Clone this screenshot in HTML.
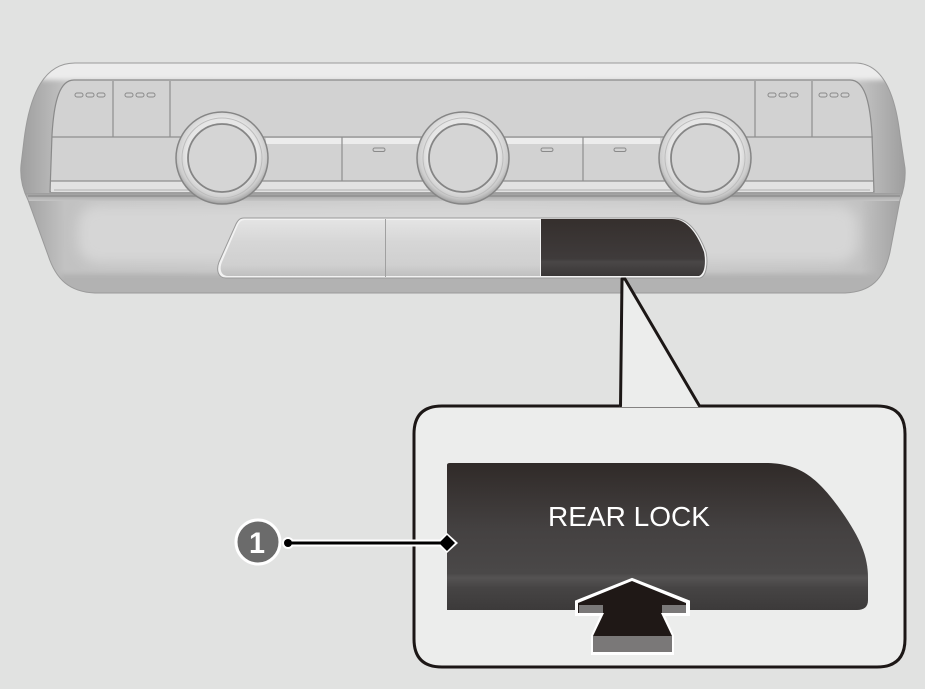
<!DOCTYPE html>
<html><head><meta charset="utf-8"><style>
html,body{margin:0;padding:0;background:#e1e2e1;}
svg{display:block;}
</style></head><body>
<svg width="925" height="689" viewBox="0 0 925 689" xmlns="http://www.w3.org/2000/svg">
<defs>
  <linearGradient id="sideG" x1="0" y1="0" x2="1" y2="0">
    <stop offset="0" stop-color="#9e9e9e"/>
    <stop offset="0.05" stop-color="#c2c2c2"/>
    <stop offset="0.5" stop-color="#cdcdcd"/>
    <stop offset="0.95" stop-color="#c2c2c2"/>
    <stop offset="1" stop-color="#9e9e9e"/>
  </linearGradient>
  <linearGradient id="btnG" x1="0" y1="0" x2="0" y2="1">
    <stop offset="0" stop-color="#302a28"/>
    <stop offset="0.45" stop-color="#444141"/>
    <stop offset="0.75" stop-color="#4a4848"/>
    <stop offset="0.78" stop-color="#555353"/>
    <stop offset="0.85" stop-color="#464444"/>
    <stop offset="1" stop-color="#3c3a3a"/>
  </linearGradient>
  <linearGradient id="smallBtn" x1="0" y1="0" x2="0" y2="1">
    <stop offset="0" stop-color="#352f2d"/>
    <stop offset="0.7" stop-color="#3f3b3b"/>
    <stop offset="0.75" stop-color="#4a4747"/>
    <stop offset="1" stop-color="#3a3737"/>
  </linearGradient>
  <linearGradient id="lightBtn" x1="0" y1="0" x2="0" y2="1">
    <stop offset="0" stop-color="#e4e4e4"/>
    <stop offset="0.4" stop-color="#d6d6d6"/>
    <stop offset="0.8" stop-color="#d0d0d0"/>
    <stop offset="1" stop-color="#c0c0c0"/>
  </linearGradient>
  <linearGradient id="ridgeG" x1="0" y1="0" x2="0" y2="1">
    <stop offset="0" stop-color="#9c9c9c"/>
    <stop offset="1" stop-color="#c4c4c4"/>
  </linearGradient>
  <radialGradient id="knobRing" cx="0.5" cy="0.45" r="0.55">
    <stop offset="0.7" stop-color="#e6e6e6"/>
    <stop offset="0.88" stop-color="#cdcdcd"/>
    <stop offset="1" stop-color="#9e9e9e"/>
  </radialGradient>
  <clipPath id="outerClip">
    <path d="M75 63 L855 63 C882 63 895 92 900 135 L905 168 C906 182 903 192 900 200 L890 252 C884 280 870 292 845 293 L95 293 C70 292 56 280 48 255 L28 200 C22 188 20 176 21 165 L24 140 C30 92 45 63 75 63 Z"/>
  </clipPath>
  <filter id="blur6" x="-10%" y="-30%" width="120%" height="160%"><feGaussianBlur stdDeviation="6"/></filter>
  <filter id="blur3" x="-10%" y="-30%" width="120%" height="160%"><feGaussianBlur stdDeviation="2.5"/></filter>
</defs>

<rect x="0" y="0" width="925" height="689" fill="#e1e2e1"/>

<!-- ===== Control panel ===== -->
<path d="M75 63 L855 63 C882 63 895 92 900 135 L905 168 C906 182 903 192 900 200 L890 252 C884 280 870 292 845 293 L95 293 C70 292 56 280 48 255 L28 200 C22 188 20 176 21 165 L24 140 C30 92 45 63 75 63 Z" fill="url(#sideG)"/>
<g clip-path="url(#outerClip)">
  <rect x="40" y="58" width="850" height="22" fill="#ececec" filter="url(#blur3)"/>
  <rect x="78" y="205" width="780" height="58" rx="20" fill="#d6d6d6" filter="url(#blur6)"/>
  <rect x="60" y="274" width="820" height="30" fill="#b2b2b2" filter="url(#blur3)"/>
  <rect x="20" y="193" width="890" height="8" fill="url(#ridgeG)"/>
</g>
<path d="M75 63 L855 63 C882 63 895 92 900 135 L905 168 C906 182 903 192 900 200 L890 252 C884 280 870 292 845 293 L95 293 C70 292 56 280 48 255 L28 200 C22 188 20 176 21 165 L24 140 C30 92 45 63 75 63 Z" fill="none" stroke="#9a9a9a" stroke-width="1"/>
<path d="M28 196 L900 196" stroke="#8f8f8f" stroke-width="1.5"/>

<!-- face plate -->
<path d="M74 80 L850 80 C864 80 870 100 872 135 L874 192 L50 192 L52 135 C54 100 60 80 74 80 Z" fill="#d2d2d2" stroke="#8a8a8a" stroke-width="1.2"/>
<line x1="52" y1="137" x2="873" y2="137" stroke="#8e8e8e" stroke-width="1.2"/>
<line x1="113" y1="81" x2="113" y2="137" stroke="#8e8e8e" stroke-width="1.2"/>
<line x1="170" y1="81" x2="170" y2="137" stroke="#8e8e8e" stroke-width="1.2"/>
<line x1="755" y1="81" x2="755" y2="137" stroke="#8e8e8e" stroke-width="1.2"/>
<line x1="812" y1="81" x2="812" y2="137" stroke="#8e8e8e" stroke-width="1.2"/>
<rect x="266" y="138" width="154" height="6" fill="#ececec"/>
<rect x="506" y="138" width="154" height="6" fill="#ececec"/>
<line x1="342" y1="137" x2="342" y2="181" stroke="#8e8e8e" stroke-width="1.2"/>
<line x1="583" y1="137" x2="583" y2="181" stroke="#8e8e8e" stroke-width="1.2"/>
<rect x="51" y="181" width="822" height="11" fill="#e2e2e2"/>
<line x1="51" y1="181" x2="873" y2="181" stroke="#8e8e8e" stroke-width="1.2"/>
<line x1="54" y1="190" x2="870" y2="190" stroke="#b0b0b0" stroke-width="1"/>
<g fill="none" stroke="#8a8a8a" stroke-width="1">
  <rect x="75" y="93" width="8" height="4" rx="2"/><rect x="86" y="93" width="8" height="4" rx="2"/><rect x="97" y="93" width="8" height="4" rx="2"/>
  <rect x="125" y="93" width="8" height="4" rx="2"/><rect x="136" y="93" width="8" height="4" rx="2"/><rect x="147" y="93" width="8" height="4" rx="2"/>
  <rect x="768" y="93" width="8" height="4" rx="2"/><rect x="779" y="93" width="8" height="4" rx="2"/><rect x="790" y="93" width="8" height="4" rx="2"/>
  <rect x="819" y="93" width="8" height="4" rx="2"/><rect x="830" y="93" width="8" height="4" rx="2"/><rect x="841" y="93" width="8" height="4" rx="2"/>
  <rect x="373" y="148" width="12" height="3.5" rx="1.7"/>
  <rect x="541" y="148" width="12" height="3.5" rx="1.7"/>
  <rect x="614" y="148" width="12" height="3.5" rx="1.7"/>
</g>

<!-- knobs -->
<g>
  <circle cx="222" cy="158" r="46" fill="url(#knobRing)" stroke="#858585" stroke-width="1.5"/>
  <circle cx="222" cy="158" r="40" fill="none" stroke="#bdbdbd" stroke-width="1"/>
  <circle cx="222" cy="158" r="34" fill="#d5d5d5" stroke="#858585" stroke-width="1.8"/>
  <circle cx="463" cy="158" r="46" fill="url(#knobRing)" stroke="#858585" stroke-width="1.5"/>
  <circle cx="463" cy="158" r="40" fill="none" stroke="#bdbdbd" stroke-width="1"/>
  <circle cx="463" cy="158" r="34" fill="#d5d5d5" stroke="#858585" stroke-width="1.8"/>
  <circle cx="705" cy="158" r="46" fill="url(#knobRing)" stroke="#858585" stroke-width="1.5"/>
  <circle cx="705" cy="158" r="40" fill="none" stroke="#bdbdbd" stroke-width="1"/>
  <circle cx="705" cy="158" r="34" fill="#d5d5d5" stroke="#858585" stroke-width="1.8"/>
</g>

<!-- lower button tray -->
<path d="M244 218 L673 218 C690 218 700 236 706 252 C708 262 707 276 700 278 L226 278 C218 278 216 270 219 262 L236 224 C238 220 240 218 244 218 Z" fill="#f2f2f2" stroke="#9a9a9a" stroke-width="1"/>
<path d="M246 220 L385 220 L385 276 L228 276 C221 276 219 269 222 262 L238 225 C240 221 242 220 246 220 Z" fill="url(#lightBtn)"/>
<rect x="386" y="220" width="154" height="56" fill="url(#lightBtn)"/>
<line x1="385.5" y1="219" x2="385.5" y2="277" stroke="#a0a0a0" stroke-width="1"/>
<path d="M541 219 L672 219 C688 219 698 236 704 252 C706 262 705 274 699 276 L541 276 Z" fill="url(#smallBtn)"/>

<!-- ===== Callout box ===== -->
<path d="M442 406 L621 406 M699 406 L877 406 Q905 406 905 434 L905 639 Q905 667 877 667 L442 667 Q414 667 414 639 L414 434 Q414 406 442 406 Z" fill="#ecedec" stroke="#1c1716" stroke-width="3" stroke-linejoin="round"/>
<polygon points="619,407 622,280 626,280 701,407" fill="#ecedec"/>
<path d="M620.5 406 L622 279 M625 279 L699.5 406" stroke="#1c1716" stroke-width="3" fill="none" stroke-linecap="round"/>
<line x1="622" y1="279" x2="625" y2="279" stroke="#1c1716" stroke-width="3"/>

<path d="M447 465 Q447 463 450 463 L765 463 C800 463 818 478 842 512 C860 538 868 556 868 578 L868 600 C868 607 864 610 857 610 L447 610 Z" fill="url(#btnG)"/>
<text x="629" y="526" fill="#ffffff" font-family="'Liberation Sans', sans-serif" font-size="28" text-anchor="middle" textLength="162" lengthAdjust="spacingAndGlyphs">REAR LOCK</text>

<!-- arrow -->
<polygon points="632,580 688,602 688,614 662,614 672,636 672,653 593,653 593,636 603,614 577,614 577,602" fill="#ffffff" stroke="#ffffff" stroke-width="4" stroke-linejoin="miter"/>
<polygon points="632,581 686,603 686,613 578,613 578,603" fill="#1f1816"/>
<rect x="579" y="605" width="24" height="8" fill="#7a7878"/>
<rect x="662" y="605" width="24" height="8" fill="#7a7878"/>
<polygon points="604,613 661,613 672,636 593,636" fill="#1f1816"/>
<rect x="593" y="636" width="79" height="16" fill="#7a7878"/>

<!-- leader 1 -->
<line x1="288" y1="543" x2="446" y2="543" stroke="#ffffff" stroke-width="7"/>
<circle cx="288" cy="543" r="6" fill="#ffffff"/>
<polygon points="447,533 458,543 447,553 436,543" fill="#ffffff"/>
<line x1="288" y1="543" x2="446" y2="543" stroke="#000" stroke-width="3"/>
<circle cx="288" cy="543" r="4" fill="#000"/>
<polygon points="447,535 455,543 447,551 439,543" fill="#000"/>
<circle cx="258" cy="542" r="22" fill="#6b6b6b" stroke="#ffffff" stroke-width="3"/>
<text x="257" y="553" fill="#ffffff" font-family="'Liberation Sans', sans-serif" font-size="30" font-weight="bold" text-anchor="middle" textLength="16" lengthAdjust="spacingAndGlyphs">1</text>
</svg>
</body></html>
